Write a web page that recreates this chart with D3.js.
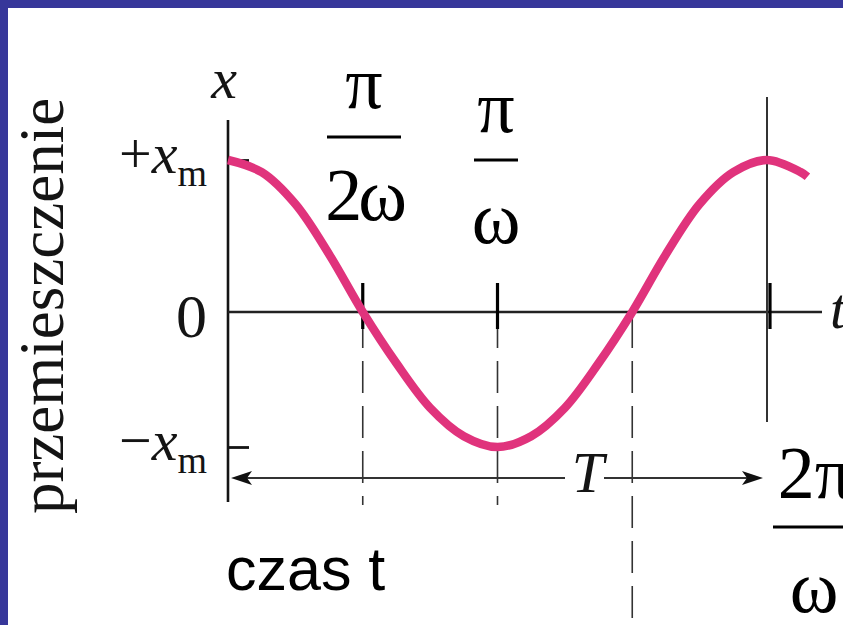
<!DOCTYPE html>
<html>
<head>
<meta charset="utf-8">
<script src="https://cdn.jsdelivr.net/npm/d3@7"></script>
<style>
  html, body { margin: 0; padding: 0; background: #fff; overflow: hidden; }
  svg { display: block; }
</style>
</head>
<body>
<svg id="chart" width="843" height="625"></svg>
<script>
// Time samples in units of π/(2ω) (quarter periods) and the displacement x/xm at each.
const timeSamples = [0, 0.25, 0.5, 0.75, 1, 1.25, 1.5, 1.75, 2, 2.25, 2.5, 2.75, 3, 3.25, 3.5, 3.75, 4, 4.25, 4.3];
const displacement = [1.00, 0.92, 0.71, 0.38, 0.00, -0.38, -0.71, -0.92, -1.00, -0.92, -0.71, -0.38, 0.00, 0.38, 0.71, 0.92, 1.00, 0.92, 0.89];

// Levels marked on the displacement axis
const levelValues = [1, 0, -1];
const levelSigns = ["+", "", "\u2212"];

// Time markers (quarter periods) and their fraction labels
const markerTimes = [1, 2, 4];
const markerNumerators = ["\u03c0", "\u03c0", "2\u03c0"];
const markerDenominators = ["2\u03c9", "\u03c9", "\u03c9"];

const svg = d3.select("#chart");
const W = 843, H = 625;
const serif = "'Liberation Serif', 'Times New Roman', serif";
const ink = "#141414";

const x = d3.scaleLinear().domain([0, 4]).range([228, 767]);
const y = d3.scaleLinear().domain([-1, 0, 1]).range([447, 312, 160]);

// frame
svg.append("rect").attr("width", W).attr("height", H).attr("fill", "#fff");
svg.append("rect").attr("x", 0).attr("y", 0).attr("width", W).attr("height", 8).attr("fill", "#37379a");
svg.append("rect").attr("x", 0).attr("y", 0).attr("width", 8).attr("height", H).attr("fill", "#37379a");

// vertical displacement axis
svg.append("line")
  .attr("x1", x(0)).attr("x2", x(0)).attr("y1", 120).attr("y2", 502)
  .attr("stroke", ink).attr("stroke-width", 2.6);

// short ticks at +xm and -xm
const levelAxis = d3.axisRight(y).tickValues([1, -1]).tickSize(21).tickFormat("");
const gLevels = svg.append("g").attr("transform", `translate(${x(0)},0)`).call(levelAxis);
gLevels.select(".domain").remove();
gLevels.selectAll(".tick line").attr("stroke", ink).attr("stroke-width", 2.8);

// time axis along x = 0
svg.append("line")
  .attr("x1", x(0)).attr("x2", 822).attr("y1", y(0)).attr("y2", y(0))
  .attr("stroke", "#222").attr("stroke-width", 2.6);

// dashed guides down from the axis
const dashed = [
  { t: 1, y2: 505 },
  { t: 2, y2: 505 },
  { t: 3, y2: 625 }
];
svg.selectAll("line.guide").data(dashed).join("line")
  .attr("class", "guide")
  .attr("x1", d => x(d.t)).attr("x2", d => x(d.t))
  .attr("y1", y(0) + 4).attr("y2", d => d.y2)
  .attr("stroke", "#333").attr("stroke-width", 1.6)
  .attr("stroke-dasharray", "32,13");

// solid line at one full period
svg.append("line")
  .attr("x1", x(4)).attr("x2", x(4)).attr("y1", 97).attr("y2", 422)
  .attr("stroke", "#333").attr("stroke-width", 2);

// bold ticks on the time axis
svg.selectAll("line.tick-t").data(markerTimes).join("line")
  .attr("class", "tick-t")
  .attr("x1", d => x(d) + (d === 4 ? 3 : 0)).attr("x2", d => x(d) + (d === 4 ? 3 : 0))
  .attr("y1", y(0) - 29).attr("y2", y(0) + 17)
  .attr("stroke", "#000").attr("stroke-width", 3.2);

// period arrow T
const arrowY = 478, arrowL = x(0) + 3, arrowR = 763, gapL = 565, gapR = 604;
svg.append("line").attr("x1", arrowL + 14).attr("x2", gapL).attr("y1", arrowY).attr("y2", arrowY)
  .attr("stroke", "#333").attr("stroke-width", 2);
svg.append("line").attr("x1", gapR).attr("x2", arrowR - 14).attr("y1", arrowY).attr("y2", arrowY)
  .attr("stroke", "#333").attr("stroke-width", 2);
svg.append("path")
  .attr("d", `M${arrowL},${arrowY} L${arrowL + 21},${arrowY - 7} L${arrowL + 16},${arrowY} L${arrowL + 21},${arrowY + 7} Z`)
  .attr("fill", "#111");
svg.append("path")
  .attr("d", `M${arrowR},${arrowY} L${arrowR - 21},${arrowY - 7} L${arrowR - 16},${arrowY} L${arrowR - 21},${arrowY + 7} Z`)
  .attr("fill", "#111");
svg.append("text").attr("x", 588).attr("y", 492)
  .attr("text-anchor", "middle").attr("font-family", serif).attr("font-style", "italic")
  .attr("font-size", 58).attr("fill", ink).text("T");

// displacement curve
const line = d3.line()
  .x((d, i) => x(timeSamples[i]))
  .y(d => y(d))
  .curve(d3.curveCatmullRom.alpha(0.5));
svg.append("path")
  .datum(displacement)
  .attr("d", line)
  .attr("fill", "none")
  .attr("stroke", "#e0337c")
  .attr("stroke-width", 8.5)
  .attr("stroke-linecap", "butt");

// axis titles
svg.append("text").attr("x", 224).attr("y", 98)
  .attr("text-anchor", "middle").attr("font-family", serif).attr("font-style", "italic")
  .attr("font-size", 58).attr("fill", ink).text("x");
svg.append("text").attr("x", 830).attr("y", 328)
  .attr("font-family", serif).attr("font-style", "italic")
  .attr("font-size", 58).attr("fill", ink).text("t");

// level labels +xm, 0, -xm
levelValues.forEach((v, i) => {
  const t = svg.append("text")
    .attr("x", 207).attr("y", y(v) + (v === 0 ? 25 : 13))
    .attr("text-anchor", "end").attr("font-family", serif)
    .attr("fill", ink);
  if (v === 0) {
    t.attr("font-size", 62).text("0");
  } else {
    t.append("tspan").attr("font-size", 58).text(levelSigns[i]);
    t.append("tspan").attr("font-size", 58).attr("font-style", "italic").text("x");
    t.append("tspan").attr("font-size", 38).attr("dy", 13).text("m");
  }
});

// fraction labels above/beside the time markers
const fracLayout = [
  { cx: 364, numY: 108, barY: 137, barW: 74, denY: 220, dx: 0 },
  { cx: 496, numY: 132, barY: 160, barW: 44, denY: 243, dx: 0 },
  { cx: 808, numY: 498, barY: 527, barW: 70, denY: 612, dx: 7 }
];
markerTimes.forEach((t, i) => {
  const L = fracLayout[i];
  svg.append("text").attr("x", L.cx + L.dx).attr("y", L.numY)
    .attr("text-anchor", "middle").attr("font-family", serif)
    .attr("font-size", 74).attr("fill", "#000").text(markerNumerators[i]);
  svg.append("rect").attr("x", L.cx - L.barW / 2).attr("y", L.barY - 1.5)
    .attr("width", L.barW).attr("height", 3).attr("fill", "#000");
  svg.append("text").attr("x", L.cx + (i === 2 ? 6 : 0)).attr("y", L.denY)
    .attr("text-anchor", "middle").attr("font-family", serif)
    .attr("font-size", 74).attr("letter-spacing", i === 0 ? -4 : 0)
    .attr("fill", "#000").text(markerDenominators[i]);
});

// rotated quantity name
svg.append("text")
  .attr("transform", "translate(63,306) rotate(-90)")
  .attr("text-anchor", "middle").attr("font-family", serif)
  .attr("font-size", 63).attr("fill", ink).text("przemieszczenie");

// time caption
svg.append("text").attr("x", 226).attr("y", 590)
  .attr("font-family", "'Liberation Sans', Arial, sans-serif")
  .attr("font-size", 61).attr("fill", "#000").text("czas t");
</script>
</body>
</html>
